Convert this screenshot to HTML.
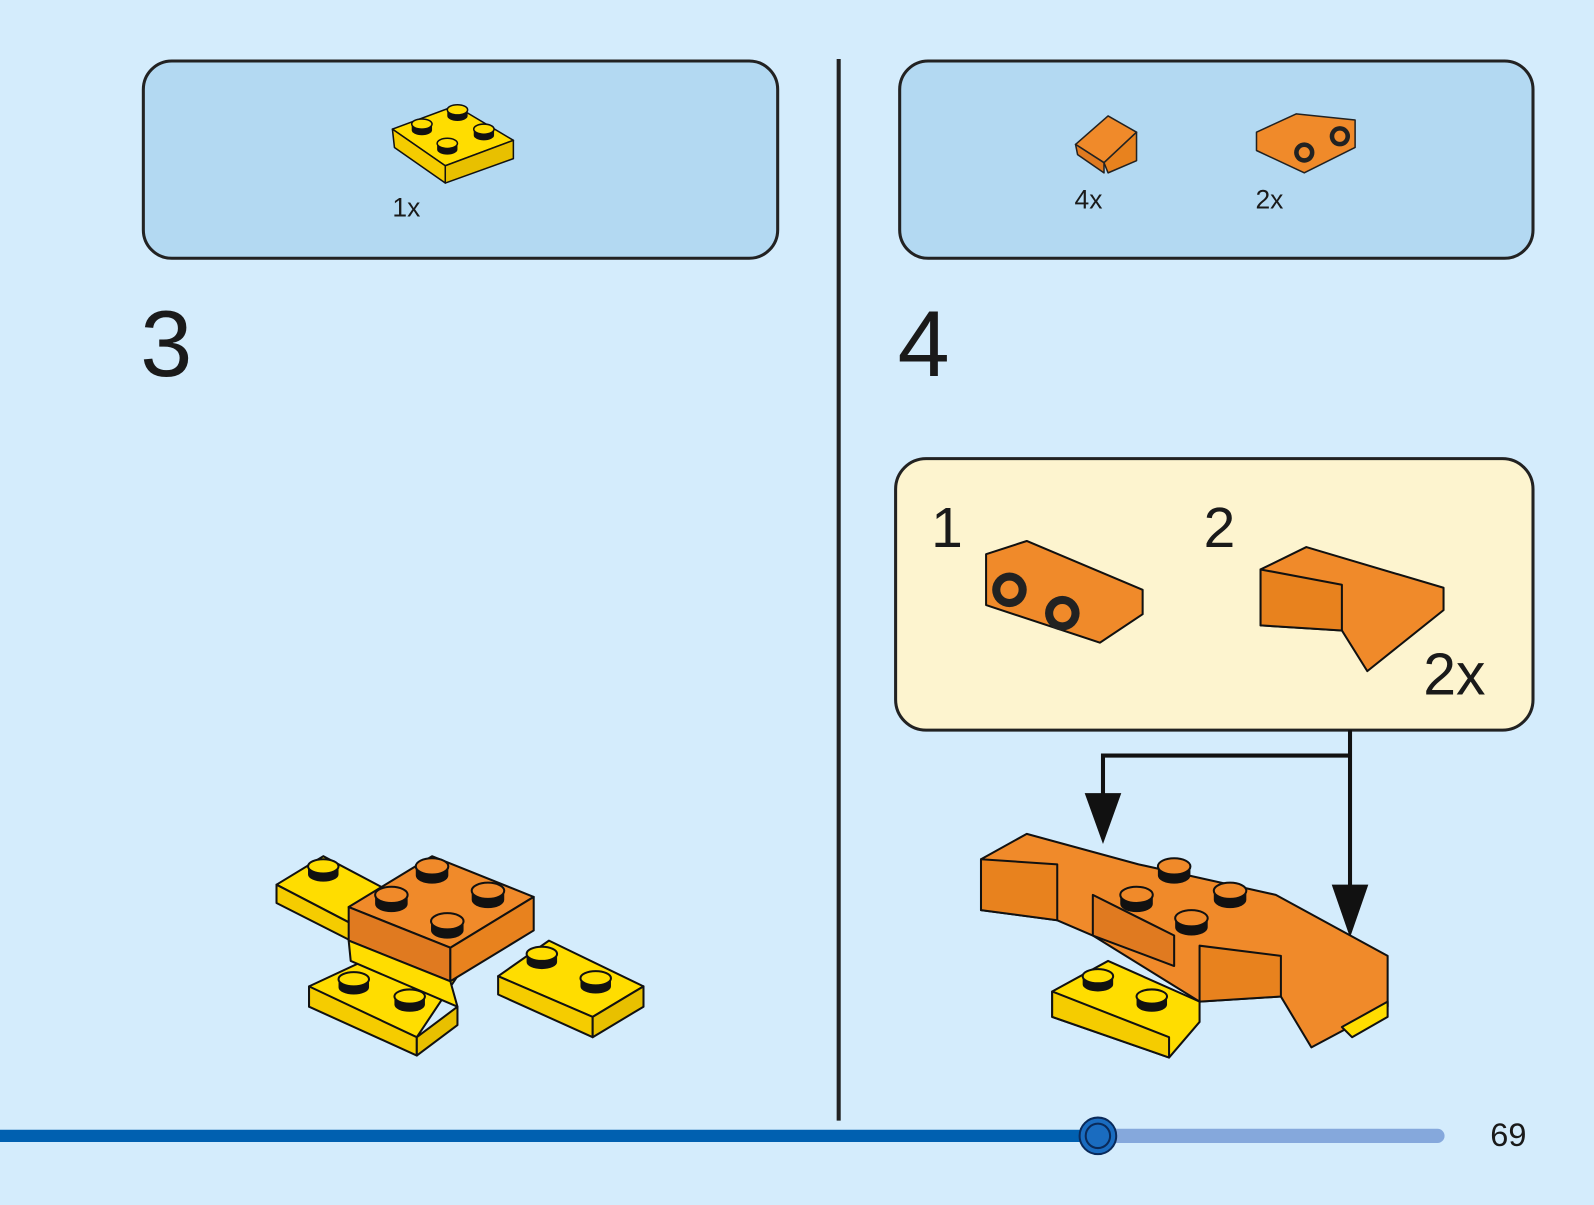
<!DOCTYPE html>
<html><head><meta charset="utf-8"><style>
html,body{margin:0;padding:0;background:#d4ecfc;}
svg{display:block}
text{font-family:"Liberation Sans",sans-serif;fill:#1a1a1a}
</style></head><body>
<svg width="1594" height="1205" viewBox="0 0 1568 1185" preserveAspectRatio="none" xmlns="http://www.w3.org/2000/svg">
<rect width="1568" height="1185" fill="#d4ecfc"/>
<defs>
<g id="sy"><path d="M-15,0 v8 a15,7 0 0 0 30,0 v-8 z" fill="#111"/><ellipse cx="0" cy="0" rx="15" ry="7" fill="#ffdd00" stroke="#111" stroke-width="2"/></g>
<g id="so"><path d="M-16,0 v9 a16,8 0 0 0 32,0 v-9 z" fill="#111"/><ellipse cx="0" cy="0" rx="16" ry="8" fill="#f08a2a" stroke="#111" stroke-width="2"/></g>
<g id="ss"><path d="M-10,0 v6 a10,5 0 0 0 20,0 v-6 z" fill="#111"/><ellipse cx="0" cy="0" rx="10" ry="5" fill="#ffdd00" stroke="#111" stroke-width="1.5"/></g>
</defs>
<!-- panels -->
<rect x="141" y="60" width="624" height="194" rx="28" fill="#b3d9f2" stroke="#222" stroke-width="3"/>
<rect x="885" y="60" width="623" height="194" rx="28" fill="#b3d9f2" stroke="#222" stroke-width="3"/>
<line x1="825" y1="58" x2="825" y2="1102" stroke="#222" stroke-width="4"/>
<!-- yellow plate small -->
<g stroke="#111" stroke-width="1.5" stroke-linejoin="round">
<polygon points="386,127 448,104 505,138 438,163" fill="#ffdd00"/>
<polygon points="386,127 438,163 438,180 388,145" fill="#f5cc00"/>
<polygon points="438,163 505,138 505,156 438,180" fill="#e8c000"/>
</g>
<use href="#ss" x="415" y="122"/><use href="#ss" x="450" y="108"/><use href="#ss" x="440" y="141"/><use href="#ss" x="476" y="127"/>
<text x="386" y="213" font-size="26">1x</text>
<!-- small orange slope -->
<g stroke="#222" stroke-width="1.5" stroke-linejoin="round">
<polygon points="1058,142 1090,114 1118,130 1086,160" fill="#f08a2a"/>
<polygon points="1058,142 1086,160 1086,170 1060,152" fill="#e07a20"/>
<polygon points="1086,160 1118,130 1118,158 1090,170" fill="#e8821e"/>
<!-- bracket -->
<polygon points="1236,130 1275,112 1333,118 1333,145 1283,170 1236,148" fill="#f08a2a"/>
</g>
<circle cx="1283" cy="150" r="10" fill="#222"/><circle cx="1283" cy="150" r="6" fill="#f08a2a" stroke="#222"/>
<circle cx="1318" cy="134" r="10" fill="#222"/><circle cx="1318" cy="134" r="6" fill="#f08a2a" stroke="#222"/>
<text x="1057" y="205" font-size="26">4x</text>
<text x="1235" y="205" font-size="26">2x</text>
<text x="138" y="370" font-size="92">3</text>
<text x="883" y="370" font-size="92">4</text>
<!-- step 3 model -->
<g stroke="#111" stroke-width="2" stroke-linejoin="round">
<polygon points="272,870 318,842 390,880 345,908" fill="#ffdd00"/>
<polygon points="272,870 345,908 345,925 272,888" fill="#f5cc00"/>
<polygon points="304,970 390,930 450,960 410,1020 304,990" fill="#ffdd00"/>
<polygon points="304,970 410,1020 410,1038 304,990" fill="#f5cc00"/>
<polygon points="410,1020 450,990 450,1008 410,1038" fill="#e8c000"/>
<polygon points="490,960 540,925 633,970 583,1000" fill="#ffdd00"/>
<polygon points="490,960 583,1000 583,1020 490,978" fill="#f5cc00"/>
<polygon points="583,1000 633,970 633,990 583,1020" fill="#e8c000"/>
<polygon points="343,892 425,842 525,882 443,932" fill="#f08a2a"/>
<polygon points="343,892 443,932 443,965 343,925" fill="#e07a20"/>
<polygon points="443,932 525,882 525,915 443,965" fill="#e8821e"/>
<polygon points="343,925 443,965 450,990 345,945" fill="#ffdd00"/>
</g>
<use href="#sy" x="318" y="852"/><use href="#sy" x="348" y="963"/><use href="#sy" x="403" y="980"/>
<use href="#sy" x="533" y="938"/><use href="#sy" x="586" y="962"/>
<use href="#so" x="425" y="852"/><use href="#so" x="385" y="880"/><use href="#so" x="480" y="876"/><use href="#so" x="440" y="906"/>
<!-- yellow callout -->
<rect x="881" y="451" width="627" height="267" rx="30" fill="#fdf4cf" stroke="#222" stroke-width="3"/>
<text x="916" y="538" font-size="56">1</text>
<text x="1184" y="538" font-size="56">2</text>
<text x="1400" y="683" font-size="58">2x</text>
<g stroke="#111" stroke-width="2" stroke-linejoin="round">
<polygon points="970,545 1010,532 1124,580 1124,604 1082,632 970,595" fill="#f08a2a"/>
<polygon points="1240,560 1285,538 1420,578 1420,600 1345,660 1320,620 1240,615" fill="#f08a2a"/>
<polygon points="1240,560 1320,575 1320,620 1240,615" fill="#e8821e"/>
</g>
<circle cx="993" cy="580" r="17" fill="#222"/><circle cx="993" cy="580" r="10" fill="#f08a2a" stroke="#222" stroke-width="2"/>
<circle cx="1045" cy="603" r="17" fill="#222"/><circle cx="1045" cy="603" r="10" fill="#f08a2a" stroke="#222" stroke-width="2"/>
<!-- arrows -->
<g stroke="#111" stroke-width="4" fill="none">
<polyline points="1328,718 1328,880"/>
<polyline points="1328,743 1085,743 1085,790"/>
</g>
<polygon points="1310,870 1346,870 1328,922" fill="#111"/>
<polygon points="1067,780 1103,780 1085,830" fill="#111"/>
<!-- step 4 model -->
<g stroke="#111" stroke-width="2" stroke-linejoin="round">
<polygon points="1035,975 1090,945 1180,985 1180,1005 1150,1040 1035,1000" fill="#ffdd00"/>
<polygon points="1035,975 1150,1020 1150,1040 1035,1000" fill="#f5cc00"/>
<polygon points="965,845 1010,820 1120,850 1255,880 1365,940 1365,990 1290,1030 1260,980 1180,985 1075,920 1040,905 965,895" fill="#f08a2a"/>
<polygon points="965,845 1040,850 1040,905 965,895" fill="#e8821e"/>
<polygon points="1180,930 1260,940 1260,980 1180,985" fill="#e8821e"/>
<polygon points="1075,880 1155,920 1155,950 1075,920" fill="#e07a20"/>
<polygon points="1320,1010 1365,985 1365,1000 1330,1020" fill="#ffdd00"/>
</g>
<use href="#sy" x="1080" y="960"/><use href="#sy" x="1133" y="980"/>
<use href="#so" x="1155" y="852"/><use href="#so" x="1118" y="880"/><use href="#so" x="1210" y="876"/><use href="#so" x="1172" y="903"/>
<!-- progress -->
<line x1="0" y1="1117" x2="1080" y2="1117" stroke="#0060b0" stroke-width="12"/>
<line x1="1080" y1="1117" x2="1414" y2="1117" stroke="#85a8dc" stroke-width="14" stroke-linecap="round"/>
<circle cx="1080" cy="1117" r="18" fill="#1a6cc0" stroke="#0a2a5a" stroke-width="2"/>
<circle cx="1080" cy="1117" r="12" fill="none" stroke="#0a2a5a" stroke-width="2"/>
<text x="1466" y="1127" font-size="32">69</text>
</svg>
</body></html>
